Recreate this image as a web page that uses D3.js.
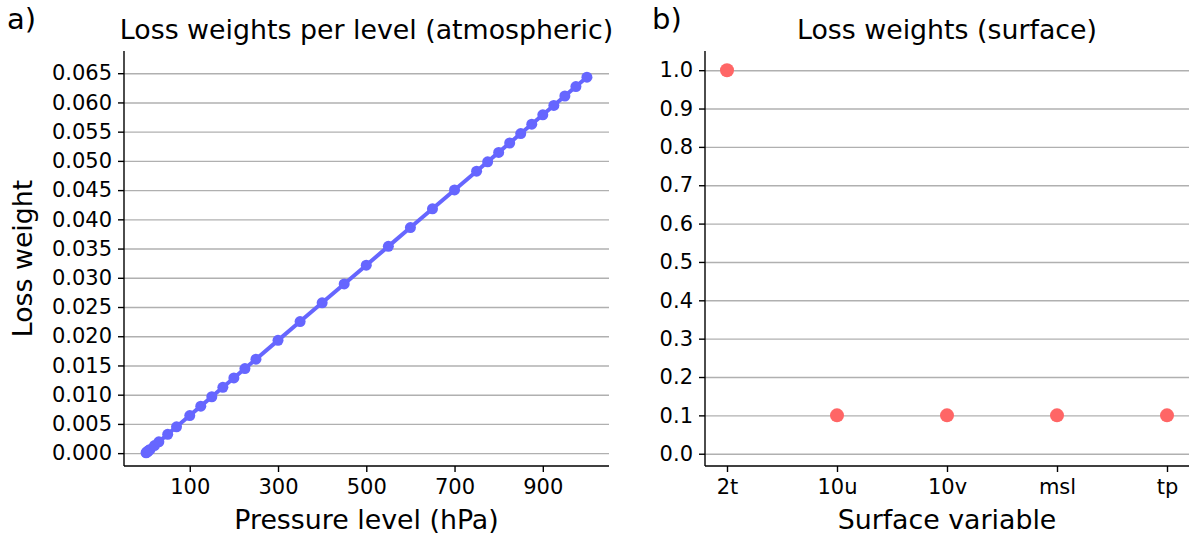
<!DOCTYPE html>
<html>
<head>
<meta charset="utf-8">
<script src="https://cdnjs.cloudflare.com/ajax/libs/d3/7.8.5/d3.min.js"></script>
<style>
  body { margin: 0; background: #fff; }
  svg text { font-family: "DejaVu Sans", sans-serif; fill: #000; }
  .grid line { stroke: #b0b0b0; stroke-width: 1.4; }
  .grid path { display: none; }
  .axis path, .axis line { stroke: #000; stroke-width: 1.4; }
</style>
</head>
<body>
<div id="chart"></div>
<script>
// pressure levels (hPa) and their loss weights
var levels = [1, 2, 3, 5, 7, 10, 20, 30, 50, 70, 100, 125, 150, 175, 200, 225, 250,
  300, 350, 400, 450, 500, 550, 600, 650, 700, 750, 775, 800, 825, 850, 875,
  900, 925, 950, 975, 1000];
var levelWeights = [0.0000643, 0.0001286, 0.000193, 0.0003216, 0.0004502, 0.000643,
  0.001286, 0.00193, 0.003216, 0.004502, 0.006432, 0.00804, 0.009648, 0.011256,
  0.012863, 0.014471, 0.016079, 0.019295, 0.022511, 0.025727, 0.028943, 0.032159,
  0.035375, 0.03859, 0.041806, 0.045022, 0.048238, 0.049846, 0.051454, 0.053062,
  0.05467, 0.056278, 0.057885, 0.059493, 0.061101, 0.062709, 0.064317];

// surface variables
var surfaceVars = ["2t", "10u", "10v", "msl", "tp"];
var surfaceWeights = [1.0, 0.1, 0.1, 0.1, 0.1];

var xTicksA = [100, 300, 500, 700, 900];
var yTicksA = d3.range(0, 0.0651, 0.005);
var yTicksB = d3.range(0, 1.01, 0.1);

var width = 1193, height = 537;
var svg = d3.select("#chart").append("svg")
  .attr("width", width).attr("height", height);

var axTop = 51, axBottom = 466;
var labelSize = "26.8px", tickSize = "21px";

// ---------- panel a ----------
var xA = d3.scaleLinear().domain([-49, 1050]).range([124, 609]);
var yA = d3.scaleLinear().domain([-0.0022, 0.0688]).range([axBottom, axTop]);

svg.append("g").attr("class", "grid")
  .attr("transform", "translate(124,0)")
  .call(d3.axisLeft(yA).tickValues(yTicksA).tickSize(-(609 - 124)).tickFormat(""));

var gxA = svg.append("g").attr("class", "axis")
  .attr("transform", "translate(0," + axBottom + ")")
  .call(d3.axisBottom(xA).tickValues(xTicksA).tickSize(6).tickPadding(5).tickSizeOuter(0));
gxA.select(".domain").attr("d", "M124,0H609");
gxA.selectAll("text").style("font-size", tickSize).attr("dy", "0.8em");

var gyA = svg.append("g").attr("class", "axis")
  .attr("transform", "translate(124,0)")
  .call(d3.axisLeft(yA).tickValues(yTicksA).tickFormat(d3.format(".3f")).tickSize(6).tickPadding(6).tickSizeOuter(0));
gyA.select(".domain").attr("d", "M0," + axTop + "V" + axBottom);
gyA.selectAll("text").style("font-size", tickSize);

var pts = levels.map(function(d, i){ return [d, levelWeights[i]]; });

svg.append("path")
  .datum(pts)
  .attr("fill", "none")
  .attr("stroke", "#6666ff")
  .attr("stroke-width", 4)
  .attr("d", d3.line().x(function(d){ return xA(d[0]); }).y(function(d){ return yA(d[1]); }));

svg.selectAll(".dotA").data(pts).enter().append("circle")
  .attr("class", "dotA")
  .attr("cx", function(d){ return xA(d[0]); })
  .attr("cy", function(d){ return yA(d[1]); })
  .attr("r", 5.5)
  .attr("fill", "#6666ff");

svg.append("text").attr("x", 366.5).attr("y", 39)
  .attr("text-anchor", "middle").style("font-size", labelSize)
  .text("Loss weights per level (atmospheric)");
svg.append("text").attr("x", 366.5).attr("y", 529)
  .attr("text-anchor", "middle").style("font-size", labelSize)
  .text("Pressure level (hPa)");
svg.append("text")
  .attr("transform", "translate(32," + ((axTop + axBottom) / 2) + ") rotate(-90)")
  .attr("text-anchor", "middle").style("font-size", labelSize)
  .text("Loss weight");
svg.append("text").attr("x", 7).attr("y", 29)
  .style("font-size", "29px").text("a)");

// ---------- panel b ----------
var xB = d3.scaleLinear().domain([-0.2, 4.2]).range([705, 1189]);
var yB = d3.scaleLinear().domain([-0.032, 1.05]).range([axBottom, axTop]);

svg.append("g").attr("class", "grid")
  .attr("transform", "translate(705,0)")
  .call(d3.axisLeft(yB).tickValues(yTicksB).tickSize(-(1189 - 705)).tickFormat(""));

var gxB = svg.append("g").attr("class", "axis")
  .attr("transform", "translate(0," + axBottom + ")")
  .call(d3.axisBottom(xB).tickValues(d3.range(surfaceVars.length))
    .tickFormat(function(i){ return surfaceVars[i]; })
    .tickSize(6).tickPadding(5).tickSizeOuter(0));
gxB.select(".domain").attr("d", "M705,0H1189");
gxB.selectAll("text").style("font-size", tickSize).attr("dy", "0.8em");

var gyB = svg.append("g").attr("class", "axis")
  .attr("transform", "translate(705,0)")
  .call(d3.axisLeft(yB).tickValues(yTicksB).tickFormat(d3.format(".1f")).tickSize(6).tickPadding(6).tickSizeOuter(0));
gyB.select(".domain").attr("d", "M0," + axTop + "V" + axBottom);
gyB.selectAll("text").style("font-size", tickSize);

svg.selectAll(".dotB").data(surfaceWeights).enter().append("circle")
  .attr("class", "dotB")
  .attr("cx", function(d, i){ return xB(i); })
  .attr("cy", function(d){ return yB(d); })
  .attr("r", 7)
  .attr("fill", "#ff6666");

svg.append("text").attr("x", 947).attr("y", 39)
  .attr("text-anchor", "middle").style("font-size", labelSize)
  .text("Loss weights (surface)");
svg.append("text").attr("x", 947).attr("y", 529)
  .attr("text-anchor", "middle").style("font-size", labelSize)
  .text("Surface variable");
svg.append("text").attr("x", 652).attr("y", 29)
  .style("font-size", "29px").text("b)");
</script>
</body>
</html>
